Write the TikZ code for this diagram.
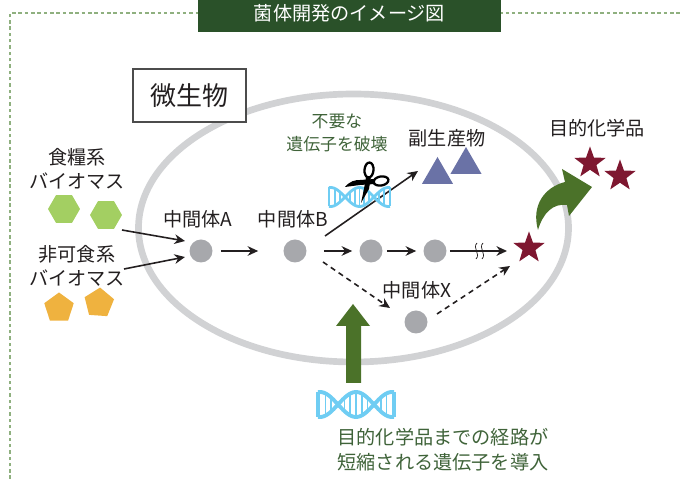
\documentclass[tikz,border=0pt]{standalone}
\usepackage{fontspec}
\setmainfont{Noto Sans CJK JP}
\usetikzlibrary{arrows.meta,shapes.geometric}
\definecolor{titlegreen}{HTML}{2A5129}
\definecolor{framegreen}{HTML}{8FB07F}
\definecolor{cellgray}{HTML}{D1D2D4}
\definecolor{dotgray}{HTML}{A7A8AC}
\definecolor{inkblack}{HTML}{231F20}
\definecolor{textgreen}{HTML}{3F6339}
\definecolor{arrowgreen}{HTML}{4B7229}
\definecolor{hexgreen}{HTML}{A3CF62}
\definecolor{pentorange}{HTML}{EFB23F}
\definecolor{triblue}{HTML}{6A72A6}
\definecolor{starred}{HTML}{7E1730}
\definecolor{dnablue}{HTML}{6FCDF3}
\tikzset{
	label/.style={text=inkblack, inner sep=0pt, align=center, font=\fontsize{10.9}{13.6}\selectfont},
	greenlabel/.style={label, text=textgreen},
	midnode/.style={circle, fill=dotgray, inner sep=0pt, minimum size=0.46cm},
	hexnode/.style={regular polygon, regular polygon sides=6, fill=hexgreen, inner sep=0pt, minimum size=0.64cm},
	pentnode/.style={regular polygon, regular polygon sides=5, fill=pentorange, inner sep=0pt, minimum size=0.62cm},
	trinode/.style={regular polygon, regular polygon sides=3, fill=triblue, inner sep=0pt, minimum size=0.72cm},
	starnode/.style={star, star points=5, star point ratio=2.45, fill=starred, inner sep=0pt, minimum size=0.66cm},
	arrowline/.style={draw=inkblack, line width=0.9pt, -{Stealth[length=6pt,width=5.5pt]}},
	dashline/.style={arrowline, dash pattern=on 3pt off 2.4pt},
	dna/.pic={
		\draw[dnablue] plot[domain=-1:1, samples=40, smooth] (\x,{cos(190*\x)});
		\draw[dnablue] plot[domain=-1:1, samples=40, smooth] (\x,{-cos(190*\x)});
		\draw[dnablue] (-1,-1) -- (-1,1);
		\draw[dnablue] (1,-1) -- (1,1);
		\foreach \rungx in {-0.8,-0.65,-0.3,-0.15,0,0.15,0.3,0.65,0.8}
			\draw[dnablue, line width=1pt] (\rungx,{cos(190*\rungx)}) -- (\rungx,{-cos(190*\rungx)});
	}
}
\begin{document}
\begin{tikzpicture}
	\useasboundingbox (0,0) rectangle (13.64,9.58);
	% frame and title
	\draw[framegreen, line width=0.6pt, dash pattern=on 2pt off 1.6pt] (0.20,0) -- (0.20,9.32) -- (13.64,9.32);
	\node[fill=titlegreen, minimum width=6.06cm, minimum height=0.64cm, inner sep=0pt] (titlebox) at (6.99,9.26) {};
	\node[label, text=white] (titletext) at (6.99,9.32) {菌体開発のイメージ図};
	% cell
	\draw[cellgray, line width=3.8pt] (7.07,5.02) ellipse (4.30 and 2.68);
	\node[draw=black!70, fill=white, line width=0.6pt, minimum width=2.26cm, minimum height=1.06cm, inner sep=0pt, font=\fontsize{14.8}{16}\selectfont, text=inkblack] (microbe) at (3.79,7.67) {微生物};
	% biomass
	\node[label] (foodlabel) at (1.54,6.20) {食糧系\\バイオマス};
	\node[label] (nonfoodlabel) at (1.54,4.26) {非可食系\\バイオマス};
	\node[hexnode] (hexa) at (1.28,5.40) {};
	\node[hexnode] (hexb) at (2.12,5.28) {};
	\node[pentnode] (penta) at (1.18,3.42) {};
	\node[pentnode, rotate=-4] (pentb) at (1.98,3.52) {};
	% intermediates
	\node[midnode] (mida) at (4.02,4.56) {};
	\node[midnode] (midb) at (5.90,4.56) {};
	\node[midnode] (midc) at (7.42,4.56) {};
	\node[midnode] (midd) at (8.70,4.56) {};
	\node[midnode] (midx) at (8.32,3.14) {};
	\node[label] (labela) at (3.96,5.20) {中間体A};
	\node[label] (labelb) at (5.86,5.20) {中間体B};
	\node[label] (labelx) at (8.34,3.78) {中間体X};
	% products
	\node[trinode] (tria) at (8.75,6.08) {};
	\node[trinode] (trib) at (9.32,6.28) {};
	\node[label] (sidelabel) at (8.94,6.82) {副生産物};
	\node[starnode] (goal) at (10.58,4.62) {};
	\node[starnode] (stara) at (11.80,6.32) {};
	\node[starnode] (starb) at (12.40,6.06) {};
	\node[label] (goallabel) at (11.94,7.02) {目的化学品};
	\node[greenlabel, font=\fontsize{9.6}{13}\selectfont] (cutlabel) at (6.74,6.92) {不要な\\遺伝子を破壊};
	\node[greenlabel, font=\fontsize{10.9}{14.2}\selectfont] (addlabel) at (8.86,0.59) {目的化学品までの経路が\\短縮される遺伝子を導入};
	% free ends
	\coordinate (fooda) at (2.44,4.98);
	\coordinate (nonfooda) at (2.48,4.20);
	\coordinate (mida1) at (3.70,4.76);
	\coordinate (mida2) at (3.70,4.44);
	\coordinate (sidea) at (6.50,4.86);
	\coordinate (sideb) at (8.36,6.16);
	\coordinate (dasha) at (6.46,4.34);
	\coordinate (dashb) at (7.80,3.42);
	\coordinate (dashc) at (8.74,3.30);
	\coordinate (dashd) at (10.20,4.26);
	\coordinate (goalend) at (10.14,4.56);
	% connectors
	\draw[arrowline] (fooda) -- (mida1);
	\draw[arrowline] (nonfooda) -- (mida2);
	\draw[arrowline, shorten <=0.16cm, shorten >=0.50cm] (mida) -- (midb);
	\draw[arrowline, shorten <=0.34cm, shorten >=0.14cm] (midb) -- (midc);
	\draw[arrowline, shorten <=0.08cm, shorten >=0.14cm] (midc) -- (midd);
	\draw[arrowline, shorten <=0.06cm] (midd) -- (goalend);
	\draw[arrowline] (sidea) -- (sideb);
	\draw[dashline] (dasha) -- (dashb);
	\draw[dashline] (dashc) -- (dashd);
	% break mark
	\draw[inkblack, line width=0.4pt] (9.54,4.72) .. controls (9.44,4.62) and (9.62,4.50) .. (9.52,4.40);
	\draw[inkblack, line width=0.4pt] (9.66,4.72) .. controls (9.56,4.62) and (9.74,4.50) .. (9.64,4.40);
	% block arrows
	\fill[arrowgreen] (6.92,1.92) -- (6.92,3.06) -- (6.72,3.06) -- (7.06,3.50) -- (7.40,3.06) -- (7.22,3.06) -- (7.22,1.92) -- cycle;
	\fill[arrowgreen] (10.76,4.98) .. controls (10.62,5.48) and (10.90,5.84) .. (11.30,5.94) -- (11.24,6.20) -- (11.84,5.84) -- (11.38,5.26) -- (11.34,5.48) .. controls (11.06,5.52) and (10.86,5.32) .. (10.76,4.98) -- cycle;
	% dna
	\pic[xscale=0.76, yscale=0.25, line width=2.2pt] at (7.12,1.49) {dna};
	\pic[xscale=0.61, yscale=0.19, line width=1.6pt] at (7.19,5.64) {dna};
	% scissors
	\draw[black, line width=1.3pt, rotate around={-5:(7.38,6.18)}] (7.38,6.18) ellipse (0.09 and 0.15);
	\draw[black, line width=1.3pt, rotate around={10:(7.62,5.96)}] (7.62,5.96) ellipse (0.15 and 0.09);
	\fill[black] (7.32,6.04) -- (7.42,6.04) -- (7.38,5.80) -- (7.22,5.52) -- (7.28,5.80) -- cycle;
	\fill[black] (6.90,5.84) .. controls (7.00,5.96) and (7.10,5.98) .. (7.20,5.98) -- (7.50,6.00) -- (7.50,5.90) -- (7.20,5.88) -- cycle;
\end{tikzpicture}
\end{document}
